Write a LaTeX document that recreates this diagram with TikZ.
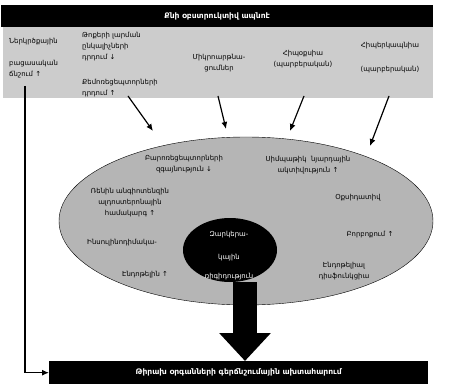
\documentclass[tikz,border=0pt]{standalone}
\usepackage{fontspec}
\setmainfont{DejaVu Sans}
\usetikzlibrary{shapes.geometric,arrows.meta,positioning}
\definecolor{boxgray}{gray}{0.80}
\definecolor{ovalgray}{gray}{0.71}

\begin{document}
\begin{tikzpicture}[x=1pt, y=-1pt,
    lbl/.style={align=center, inner sep=0pt, font=\fontsize{6.9}{11}\selectfont},
    lbll/.style={lbl, align=left},
    bar/.style={fill=black, text=white, inner sep=0pt, font=\fontsize{7.6}{9}\selectfont\bfseries},
    ar/.style={line width=1.2pt, -{Latex[length=7pt,width=6pt]}}]
    \useasboundingbox (0,0) rectangle (450,385);
    % top part
    \node [fill=boxgray, anchor=north west, minimum width=430pt, minimum height=71pt, inner sep=0pt] (grey) at (3,27) {};
    \node [bar, anchor=north west, minimum width=432pt, minimum height=22pt] (title) at (1,5) {Քնի օբստրուկտիվ ապնոէ};
    \node [lbll, anchor=west] (nerk) at (9,58) {Ներկրծքային\\[10.5pt]բացասական\\ճնշում ↑};
    \node [lbll, anchor=west] (toq) at (82,65) {Թոքերի լարման\\ընկալիչների\\դրդում ↓\\[14pt]Քեմոռեցեպտորների\\դրդում ↑};
    \node [lbl] (mikro) at (219,63) {Միկրոարթնա-\\ցումներ};
    \node [lbl] (hipoq) at (303,59) {Հիպօքսիա\\(պարբերական)};
    \node [lbl] (hiper) at (390,58) {Հիպերկապնիա\\[13pt](պարբերական)};
    % oval
    \node [ellipse, draw, fill=ovalgray, minimum width=374pt, minimum height=168pt, inner sep=0pt] (oval) at (246,221) {};
    \node [lbl] (baro) at (184,164) {Բարոռեցեպտորների\\զգայնություն ↓};
    \node [lbl] (simp) at (308,165) {Սիմպաթիկ\ \ նյարդային\\ակտիվություն ↑};
    \node [lbl] (renin) at (130,203) {Ռենին անգիոտենզին\\ալդոստերոնային\\համակարգ ↑};
    \node [lbl] (oqsid) at (358,198) {Օքսիդատիվ};
    \node [lbl] (insul) at (122,243) {Ինսուլինոդիմակա-};
    \node [lbl] (endot) at (145,275) {Էնդոթելին ↑};
    \node [lbl] (borb) at (370,235) {Բորբոքում ↑};
    \node [lbl] (endf) at (344,271) {Էնդոթելիալ\\դիսֆունկցիա};
    \node [ellipse, fill=black, minimum width=94pt, minimum height=64pt, inner sep=0pt] (core) at (230,250) {};
    \begin{scope}
        \clip (230,250) ellipse [x radius=47pt, y radius=32pt];
        \node [lbl, text=white] (coretxt) at (229,256) {Զարկերա-\\[12pt]կային\\[8pt]ռիգիդություն};
    \end{scope}
    % bottom bar
    \node [bar, anchor=north west, minimum width=379pt, minimum height=23pt] (target) at (49,361) {Թիրախ օրգանների գերճնշումային ախտահարում};
    % arrows
    \coordinate (t1) at (128,96);  \coordinate (h1) at (153,131);
    \coordinate (t2) at (218,96);  \coordinate (h2) at (226,129);
    \coordinate (t3) at (304,96);  \coordinate (h3) at (290,131);
    \coordinate (t4) at (389,96);  \coordinate (h4) at (370,146);
    \coordinate (lft) at (25,86);
    \draw [ar] (t1) -- (h1);
    \draw [ar] (t2) -- (h2);
    \draw [ar] (t3) -- (h3);
    \draw [ar] (t4) -- (h4);
    \draw [ar] (lft) |- (target.west);
    \draw [line width=24pt, -{Triangle[length=28pt,width=50pt]}] ([xshift=15pt]core.south) -- ([xshift=15pt]core.south |- target.north);
\end{tikzpicture}
\end{document}
